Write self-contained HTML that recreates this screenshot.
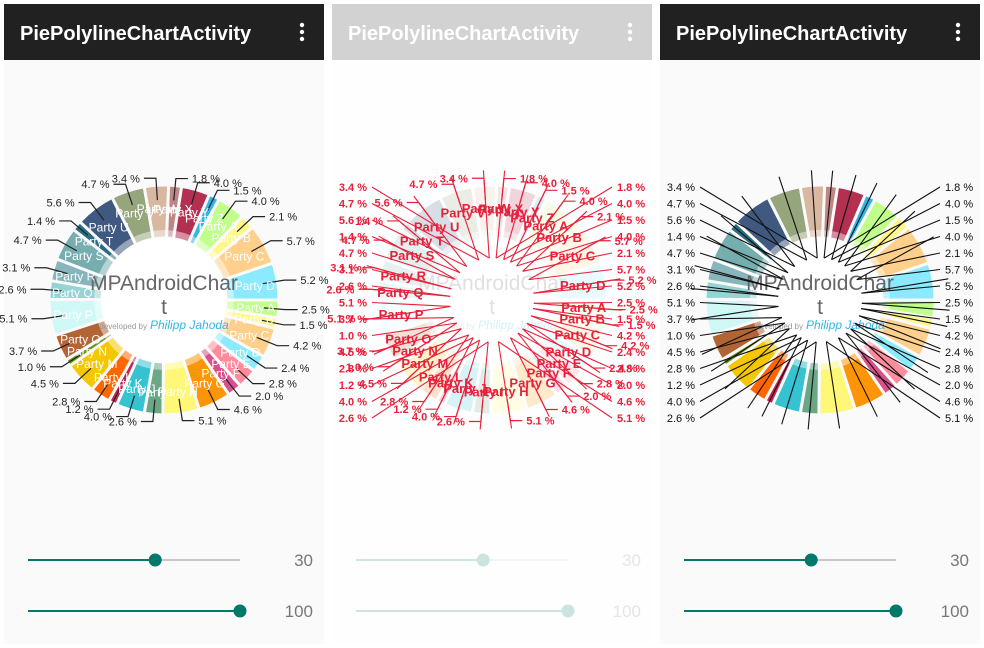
<!DOCTYPE html>
<html><head><meta charset="utf-8">
<style>
body{margin:0;background:#fff;width:984px;height:648px;overflow:hidden;font-family:"Liberation Sans",sans-serif}
svg{position:absolute;left:0;top:0}
</style></head>
<body>
<svg id="root" width="984" height="648" viewBox="0 0 984 648"></svg>
<script>
const names=["Party A","Party B","Party C","Party D","Party E","Party F","Party G","Party H","Party I","Party J","Party K","Party L","Party M","Party N","Party O","Party P","Party Q","Party R","Party S","Party T","Party U","Party V","Party W","Party X","Party Y","Party Z","Party A","Party B","Party C","Party D"];
const values=[2.5,1.5,4.2,2.4,2.8,2.0,4.6,5.1,2.6,4.0,1.2,2.8,4.5,1.0,3.7,5.1,2.6,3.1,4.7,1.4,5.6,4.7,3.4,1.8,4.0,1.5,4.0,2.1,5.7,5.2];
const colors=["#C0FF8C","#FFF78C","#FFD08C","#8CEAFF","#FF8C9D","#D9508A","#FE9507","#FEF778","#6AA786","#35C2D1","#C12552","#FF6600","#F5C700","#6A961F","#B36435","#CFF8F6","#94D4D4","#88B4BB","#76AEAF","#2A6D82","#405980","#95A57C","#D9B8A2","#BF8686","#B33050","#33B5E5","#C0FF8C","#FFF78C","#FFD08C","#8CEAFF"];
const sliderVals=[30,100];
const sliderMax=[50,100];
const NS="http://www.w3.org/2000/svg";
const root=document.getElementById('root');
function el(tag,attrs,parent,txt){const e=document.createElementNS(NS,tag);for(const k in attrs)e.setAttribute(k,attrs[k]);if(txt!==undefined)e.textContent=txt;(parent||root).appendChild(e);return e;}
const total=values.reduce((a,b)=>a+b,0);
function angleOf(v){return v/total*360;}
function pt(cx,cy,r,a){const t=a*Math.PI/180;return [cx+r*Math.cos(t),cy+r*Math.sin(t)];}
function arc(cx,cy,r0,r1,a0,a1){const l=(a1-a0)>180?1:0;const p0=pt(cx,cy,r1,a0),p1=pt(cx,cy,r1,a1),p2=pt(cx,cy,r0,a1),p3=pt(cx,cy,r0,a0);
return `M${p0[0]},${p0[1]}A${r1},${r1} 0 ${l} 1 ${p1[0]},${p1[1]}L${p2[0]},${p2[1]}A${r0},${r0} 0 ${l} 0 ${p3[0]},${p3[1]}Z`;}
const R=115,HOLE=62,TR=70;
const mids=[];{let a=0;values.forEach(v=>{const d=angleOf(v);mids.push([a,a+d,a+d/2]);a+=d;});}

function drawPanel(i){
  const x0=[4,332,660][i];const g=el('g',{},root);
  
  el('rect',{x:x0,y:4,width:320,height:640,fill:'#fafafa'},g);
  const hd=el('rect',{x:x0,y:4,width:320,height:56,fill:'#212121'},g);
  
  const tt=el('text',{x:x0+16,y:40,fill:'#fff','font-size':20,'font-weight':'bold'},g,'PiePolylineChartActivity');
  
  const mg=el('g',{},g);
  [25,32,39].forEach(y=>el('circle',{cx:x0+298,cy:y,r:2.2,fill:'#fff'},mg));
  const cx=x0+160,cy=300;
  const chart=el('g',{},g);
  values.forEach((v,k)=>{const [a0,a1]=mids[k];
    const p=el('path',{d:arc(cx,cy,HOLE,R,a0,a1),fill:colors[k],stroke:'#fafafa','stroke-width':3},chart);
    });
  el('circle',{cx,cy,r:TR,fill:'#fff','fill-opacity':0.45},chart);
  el('circle',{cx,cy,r:HOLE,fill:'#fff'},chart);
  const ct=el('g',{},chart);
  el('text',{x:cx,y:290,'text-anchor':'middle','font-size':21,fill:'#666','font-weight':300},ct,'MPAndroidChar');
  el('text',{x:cx,y:314,'text-anchor':'middle','font-size':21,fill:'#666'},ct,'t');
  el('text',{x:cx-17,y:329,'text-anchor':'end','font-size':8,fill:'#999'},ct,'developed by');
  el('text',{x:cx-14,y:329,'font-size':12,fill:'#33b5e5','font-style':'italic'},ct,'Philipp Jahoda');
  sliderVals.forEach((sv,s)=>{const y=[560,611][s];const xa=x0+24,xb=x0+236;const tx=xa+(xb-xa)*sv/sliderMax[s];
    const sg=el('g',{},g);
    el('line',{x1:xa,y1:y,x2:xb,y2:y,stroke:'#c8c8c8','stroke-width':2},sg);
    el('line',{x1:xa,y1:y,x2:tx,y2:y,stroke:'#00796b','stroke-width':2},sg);
    el('circle',{cx:tx,cy:y,r:6.5,fill:'#00796b'},sg);
    const vt=el('text',{x:x0+309,y:y+6,'text-anchor':'end','font-size':17,fill:'#777'},g,String(sv));
    });
  return {g,cx,cy,x0};
}
function outsideLabels(P,color,bold,parent){
  values.forEach((v,k)=>{const a=mids[k][2];const p1=pt(P.cx,P.cy,100,a),p2=pt(P.cx,P.cy,122,a);
    const right=Math.cos(a*Math.PI/180)>=0;const x3=p2[0]+(right?12:-12);
    el('polyline',{points:`${p1[0]},${p1[1]} ${p2[0]},${p2[1]} ${x3},${p2[1]}`,fill:'none',stroke:color,'stroke-width':1.2},parent);
    const t=el('text',{x:x3+(right?4:-4),y:p2[1]+4,'text-anchor':right?'start':'end','font-size':11,fill:color,'font-weight':bold?'bold':'normal'},parent,v.toFixed(1)+' %');
    });
}
function entryLabels(P,color,bold,size,parent){
  values.forEach((v,k)=>{const a=mids[k][2];const p=pt(P.cx,P.cy,92,a);
    const t=el('text',{x:p[0],y:p[1]+5,'text-anchor':'middle','font-size':size,fill:color,'font-weight':bold?'bold':'normal'},parent,names[k]);
    });
}
function columnLabels(P,color,bold,parent){
  const left=[],right=[];
  values.forEach((v,k)=>{const a=mids[k][2];(Math.cos(a*Math.PI/180)<0?left:right).push(k);});
  left.sort((p,q)=>Math.sin(mids[p][2]*Math.PI/180)-Math.sin(mids[q][2]*Math.PI/180));
  right.sort((p,q)=>Math.sin(mids[p][2]*Math.PI/180)-Math.sin(mids[q][2]*Math.PI/180));
  [[left,true],[right,false]].forEach(([arr,isL])=>{const step=231/(arr.length-1);
    arr.forEach((k,j)=>{const y=187+j*step;const a=mids[k][2];const pin=pt(P.cx,P.cy,42,a),pout=pt(P.cx,P.cy,130,a);
      const lx=isL?P.x0+40:P.x0+280;
      el('line',{x1:pin[0],y1:pin[1],x2:pout[0],y2:pout[1],stroke:color,'stroke-width':1.1},parent);
      el('line',{x1:pin[0],y1:pin[1],x2:lx,y2:y,stroke:color,'stroke-width':1.1},parent);
      const t=el('text',{x:isL?P.x0+35:P.x0+285,y:y+4,'text-anchor':isL?'end':'start','font-size':11,fill:color,'font-weight':bold?'bold':'normal'},parent,values[k].toFixed(1)+' %');
      });});
}
const P1=drawPanel(0);
outsideLabels(P1,'#222',false,P1.g);entryLabels(P1,'#fff',false,12,P1.g);
const P3=drawPanel(2);
columnLabels(P3,'#111',false,P3.g);
const P2=drawPanel(1);
el('rect',{x:332,y:4,width:320,height:640,fill:'#fff','fill-opacity':0.8},P2.g);
const red=el('g',{},P2.g);
columnLabels(P2,'#e8203a',true,red);outsideLabels(P2,'#e8203a',true,red);entryLabels(P2,'#e8203a',true,13,red);
</script>
</body></html>
